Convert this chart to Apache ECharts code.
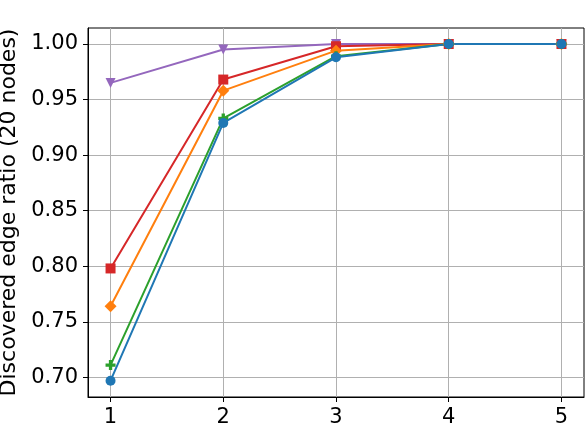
<!DOCTYPE html>
<html>
<head>
<meta charset="utf-8">
<script src="https://cdn.jsdelivr.net/npm/echarts@6/dist/echarts.min.js"></script>
<style>
  html, body { margin: 0; padding: 0; background: #fff; }
  #chart { width: 587px; height: 430px; }
</style>
</head>
<body>
<div id="chart"></div>
<script>
// data
const xs = [1, 2, 3, 4, 5]
const xTicks = [1, 2, 3, 4, 5]
const yTicks = [0.70, 0.75, 0.80, 0.85, 0.90, 0.95, 1.00]
const purpleVals = [0.965, 0.995, 1.000, 1.000, 1.000]
const redVals = [0.798, 0.968, 0.998, 1.000, 1.000]
const orangeVals = [0.764, 0.958, 0.994, 1.000, 1.000]
const greenVals = [0.711, 0.933, 0.989, 1.000, 1.000]
const blueVals = [0.697, 0.929, 0.988, 1.000, 1.000]

const font = 'DejaVu Sans'
const plusPath = 'path://M2,0H4V2H6V4H4V6H2V4H0V2H2Z'

const pts = vals => xs.map((x, i) => [x, vals[i]])

const mkSeries = (vals, color, symbol, size, rotate) => ({
  type: 'line',
  data: pts(vals),
  symbol: symbol,
  symbolSize: size,
  symbolRotate: rotate || 0,
  showAllSymbol: true,
  lineStyle: { color: color, width: 2 },
  itemStyle: { color: color, opacity: 1 },
  emphasis: { disabled: true },
  animation: false
})

let myChart = echarts.init(document.getElementById('chart'))
let option = {
  backgroundColor: '#fff',
  animation: false,
  grid: {
    left: 88, right: 3, top: 28, bottom: 33,
    outerBoundsMode: 'none',
    containLabel: false,
    show: true, borderColor: '#000', borderWidth: 1
  },
  xAxis: {
    type: 'value',
    min: 0.8,
    max: 5.2,
    axisLine: { show: true, onZero: false, lineStyle: { color: '#000', width: 1 } },
    axisTick: { show: true, length: 5, customValues: xTicks, lineStyle: { color: '#000' } },
    axisLabel: {
      customValues: xTicks, color: '#000', fontFamily: font, fontSize: 21, margin: 10,
      formatter: v => String(v)
    },
    splitLine: { show: true, customValues: xTicks, lineStyle: { color: '#b0b0b0', width: 1 } }
  },
  yAxis: {
    type: 'value',
    min: 0.6823,
    max: 1.0144,
    name: 'Discovered edge ratio (20 nodes)',
    nameLocation: 'middle',
    nameGap: 65,
    nameTextStyle: { color: '#000', fontFamily: font, fontSize: 22 },
    axisLine: { show: true, onZero: false, lineStyle: { color: '#000', width: 1 } },
    axisTick: { show: true, length: 5, customValues: yTicks, lineStyle: { color: '#000' } },
    axisLabel: {
      customValues: yTicks, color: '#000', fontFamily: font, fontSize: 21, margin: 10,
      formatter: v => v.toFixed(2)
    },
    splitLine: { show: true, customValues: yTicks, lineStyle: { color: '#b0b0b0', width: 1 } }
  },
  series: [
    mkSeries(purpleVals, '#9467bd', 'triangle', 10, 180),
    mkSeries(redVals, '#d62728', 'rect', 10),
    mkSeries(orangeVals, '#ff7f0e', 'diamond', 12),
    mkSeries(greenVals, '#2ca02c', plusPath, 10),
    mkSeries(blueVals, '#1f77b4', 'circle', 10)
  ]
}
myChart.setOption(option)
</script>
</body>
</html>
